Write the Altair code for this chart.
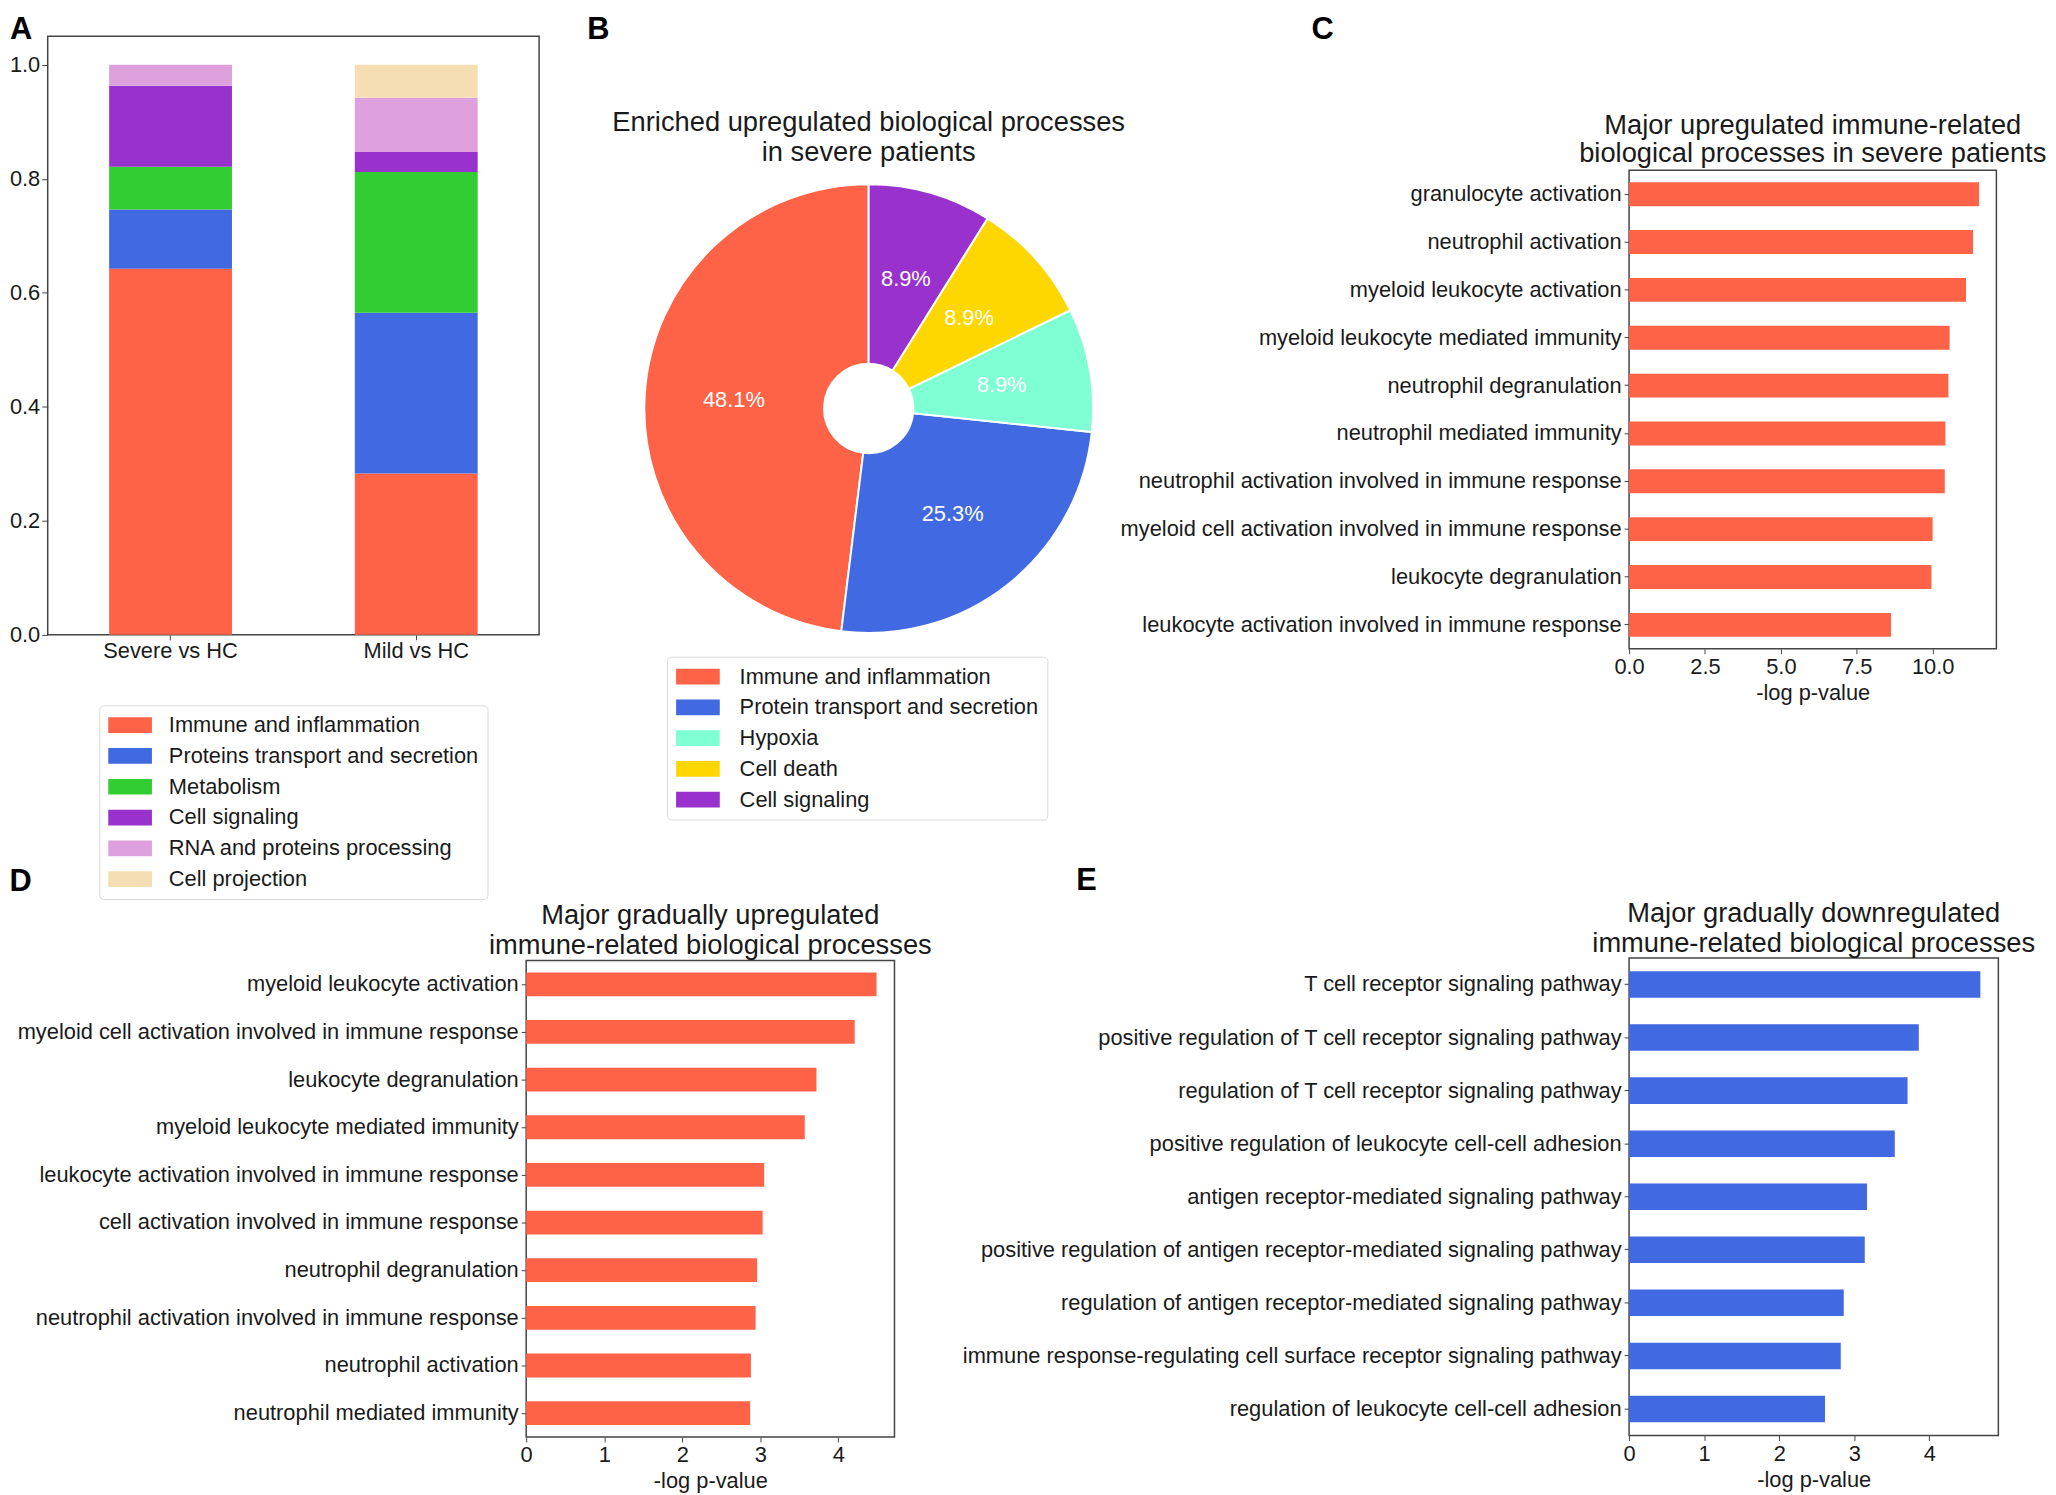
import altair as alt
import pandas as pd

FONT = "Liberation Sans"

# ---------------- Panel A : stacked proportions ----------------
a_groups = ["Severe vs HC", "Mild vs HC"]
a_categories = [
    "Immune and inflammation",
    "Proteins transport and secretion",
    "Metabolism",
    "Cell signaling",
    "RNA and proteins processing",
    "Cell projection",
]
a_severe = [0.642, 0.104, 0.075, 0.142, 0.037, 0.0]
a_mild = [0.283, 0.282, 0.247, 0.035, 0.095, 0.058]
a_colors = ["tomato", "royalblue", "limegreen", "darkorchid", "plum", "wheat"]
a_ticks = [0.0, 0.2, 0.4, 0.6, 0.8, 1.0]

# ---------------- Panel B : pie ----------------
b_categories = [
    "Immune and inflammation",
    "Protein transport and secretion",
    "Hypoxia",
    "Cell death",
    "Cell signaling",
]
b_values = [48.1, 25.3, 8.9, 8.9, 8.9]
b_colors = ["tomato", "royalblue", "aquamarine", "gold", "darkorchid"]
b_clockwise = [4, 3, 2, 1, 0]  # slice order clockwise from 12 o'clock

# ---------------- Panel C ----------------
c_terms = [
    "granulocyte activation",
    "neutrophil activation",
    "myeloid leukocyte activation",
    "myeloid leukocyte mediated immunity",
    "neutrophil degranulation",
    "neutrophil mediated immunity",
    "neutrophil activation involved in immune response",
    "myeloid cell activation involved in immune response",
    "leukocyte degranulation",
    "leukocyte activation involved in immune response",
]
c_values = [11.53, 11.33, 11.10, 10.56, 10.52, 10.42, 10.40, 10.00, 9.96, 8.63]
c_ticks = [0.0, 2.5, 5.0, 7.5, 10.0]

# ---------------- Panel D ----------------
d_terms = [
    "myeloid leukocyte activation",
    "myeloid cell activation involved in immune response",
    "leukocyte degranulation",
    "myeloid leukocyte mediated immunity",
    "leukocyte activation involved in immune response",
    "cell activation involved in immune response",
    "neutrophil degranulation",
    "neutrophil activation involved in immune response",
    "neutrophil activation",
    "neutrophil mediated immunity",
]
d_values = [4.49, 4.21, 3.72, 3.57, 3.05, 3.03, 2.96, 2.94, 2.88, 2.87]
d_ticks = [0, 1, 2, 3, 4]

# ---------------- Panel E ----------------
e_terms = [
    "T cell receptor signaling pathway",
    "positive regulation of T cell receptor signaling pathway",
    "regulation of T cell receptor signaling pathway",
    "positive regulation of leukocyte cell-cell adhesion",
    "antigen receptor-mediated signaling pathway",
    "positive regulation of antigen receptor-mediated signaling pathway",
    "regulation of antigen receptor-mediated signaling pathway",
    "immune response-regulating cell surface receptor signaling pathway",
    "regulation of leukocyte cell-cell adhesion",
]
e_values = [4.68, 3.86, 3.71, 3.54, 3.17, 3.14, 2.86, 2.82, 2.61]
e_ticks = [0, 1, 2, 3, 4]

FRAME = alt.ViewBackground(stroke="#444444", strokeWidth=1.5)
NOFRAME = alt.ViewBackground(strokeWidth=0)
RECT = "M-2,-0.72H2V0.72H-2Z"


def legend_opts(x, y, label_offset):
    return alt.Legend(
        orient="none", legendX=x, legendY=y, title=None,
        labelFontSize=22, labelColor="#1a1a1a", labelLimit=1000,
        symbolType=RECT, symbolSize=484, symbolStrokeWidth=0, symbolOffset=11,
        labelOffset=label_offset, rowPadding=9, padding=9,
        strokeColor="#d9d9d9", fillColor="white", cornerRadius=4,
    )


def letter_mark(ch, x, y):
    return alt.Chart(pd.DataFrame({"t": [ch]})).mark_text(
        fontSize=31, fontWeight="bold", align="left", baseline="alphabetic",
        color="black", font=FONT,
    ).encode(text="t:N", x=alt.value(x), y=alt.value(y))


def letter_row(ch, x, y, h):
    """Unframed strip holding a panel letter, used to push a panel down."""
    return letter_mark(ch, x, y).properties(width=1, height=h, view=NOFRAME)


def blank(w, h):
    return alt.Chart(pd.DataFrame({"t": [""]})).mark_text().encode(
        text="t:N").properties(width=w, height=h, view=NOFRAME)


IND = dict(color="independent")

# ---- A ----
rows = []
for g, vals in zip(a_groups, [a_severe, a_mild]):
    for i, (c, v) in enumerate(zip(a_categories, vals)):
        rows.append({"group": g, "category": c, "value": v, "idx": i})
dfA = pd.DataFrame(rows)

bars_a = alt.Chart(dfA).mark_bar().encode(
    x=alt.X("group:N", sort=a_groups,
            scale=alt.Scale(paddingInner=0.5, paddingOuter=0.25),
            axis=alt.Axis(title=None, labelAngle=0, tickSize=5, labelPadding=1)),
    y=alt.Y("value:Q", stack="zero",
            scale=alt.Scale(domain=[0, 1.05], nice=False),
            axis=alt.Axis(title=None, values=a_ticks, format=".1f",
                          tickSize=6, labelPadding=2, labelFlush=False)),
    color=alt.Color("category:N",
                    scale=alt.Scale(domain=a_categories, range=a_colors),
                    legend=legend_opts(52, 674, 28)),
    order=alt.Order("idx:Q", sort="ascending"),
)
panelA = alt.layer(
    bars_a,
    letter_mark("A", -38, 2.8),
    letter_mark("D", -38.6, 861),
).properties(width=495, height=603, view=FRAME)

# ---- B ----
dfB = pd.DataFrame({
    "category": b_categories,
    "value": b_values,
    "cw": b_clockwise,
    "label": [f"{v:.1f}%" for v in b_values],
})
arcs = alt.Chart(dfB).mark_arc(
    outerRadius=226, innerRadius=45, stroke="white", strokeWidth=2
).encode(
    theta=alt.Theta("value:Q", stack=True),
    color=alt.Color("category:N",
                    scale=alt.Scale(domain=b_categories, range=b_colors),
                    legend=legend_opts(23, 476, 31)),
    order=alt.Order("cw:Q", sort="ascending"),
)
pie_labels = alt.Chart(dfB).mark_text(
    radius=136, fontSize=22, color="white", font=FONT
).encode(
    theta=alt.Theta("value:Q", stack=True),
    text="label:N",
    order=alt.Order("cw:Q", sort="ascending"),
)
panelB = alt.layer(arcs, pie_labels).properties(
    width=452, height=452,
    title=alt.Title(["Enriched upregulated biological processes", "in severe patients"],
                    offset=13.5, lineHeight=31),
    view=NOFRAME,
)


def hbar(terms, values, color, xmax, ticks, fmt, w, h, title, offset, lh):
    df = pd.DataFrame({"term": terms, "value": values})
    return alt.Chart(df).mark_bar(color=color).encode(
        y=alt.Y("term:N", sort=terms,
                scale=alt.Scale(paddingInner=0.5, paddingOuter=0.25),
                axis=alt.Axis(title=None, tickSize=5, labelPadding=3)),
        x=alt.X("value:Q", scale=alt.Scale(domain=[0, xmax], nice=False),
                axis=alt.Axis(title="-log p-value", values=ticks, format=fmt,
                              tickSize=5, labelPadding=3, titlePadding=5,
                              labelFlush=False)),
    ).properties(
        width=w, height=h, view=FRAME,
        title=alt.Title(title, offset=offset, lineHeight=lh),
    )


panelC = hbar(c_terms, c_values, "tomato", 12.1, c_ticks, ".1f", 370, 482,
              ["Major upregulated immune-related",
               "biological processes in severe patients"], 2.5, 29)
panelD = hbar(d_terms, d_values, "tomato", 4.72, d_ticks, "d", 371, 480,
              ["Major gradually upregulated",
               "immune-related biological processes"], 1.5, 29.5)
panelE = hbar(e_terms, e_values, "royalblue", 4.92, e_ticks, "d", 372, 481,
              ["Major gradually downregulated",
               "immune-related biological processes"], 1, 30)

colB = alt.vconcat(letter_row("B", -57.5, 2.8, 73), panelB, spacing=0).resolve_scale(**IND)
colC = alt.vconcat(letter_row("C", -320, 2.8, 75), panelC, spacing=0)
colE = alt.vconcat(letter_row("E", -557, 29, 36), panelE, spacing=1.5)

rowAB = alt.hconcat(panelA, colB, spacing=47).resolve_scale(**IND)
rowD = alt.hconcat(blank(1, 1), panelD, spacing=-33)
left = alt.vconcat(rowAB, rowD, spacing=0).resolve_scale(**IND)
right = alt.vconcat(colC, colE, spacing=158)

chart = alt.hconcat(left, right, spacing=-166).resolve_scale(**IND).properties(
    padding=0
).configure(
    font=FONT
).configure_view(
    stroke="#444444", strokeWidth=1.5
).configure_axis(
    labelFontSize=22, labelColor="#1a1a1a", tickColor="#444444",
    titleFontSize=22, titleFontWeight="normal", titleColor="#1a1a1a",
    domain=False, grid=False, labelLimit=1000, labelFont=FONT, titleFont=FONT,
).configure_title(
    fontSize=27.5, fontWeight="normal", color="#1a1a1a", font=FONT,
).configure_legend(labelFont=FONT)

chart.save("out.html", embed_options={"renderer": "svg", "actions": False})
